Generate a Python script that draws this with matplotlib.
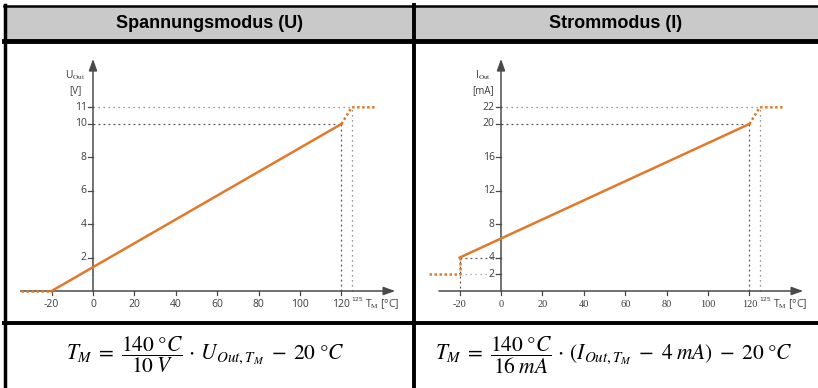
import matplotlib
matplotlib.use("Agg")
import matplotlib.pyplot as plt
from matplotlib.patches import Rectangle
from matplotlib.lines import Line2D

W, H = 818, 388

# column headers and formulas
headers = ["Spannungsmodus (U)", "Strommodus (I)"]
formulas = [
    r"$T_M \;=\; \dfrac{140\;°C}{10\;V} \,\cdot\, U_{Out,T_M} \;-\; 20\;°C$",
    r"$T_M \;=\; \dfrac{140\;°C}{16\;mA} \,\cdot\, \left(I_{Out,T_M} \;-\; 4\;mA\right) \;-\; 20\;°C$",
]

# voltage mode characteristic
u_temp = [-35, -20, 120, 125, 136]
u_out = [0, 0, 10, 11, 11]
u_yticks = [2, 4, 6, 8, 10, 11]

# current mode characteristic
i_temp = [-35, -20, -20, 120, 125, 136]
i_out = [2, 2, 4, 20, 22, 22]
i_yticks = [2, 4, 8, 12, 16, 20, 22]

t_ticks = [-20, 0, 20, 40, 60, 80, 100, 120]
t_max = 125

ORANGE = "#e2782a"
AXC = "#4a4a4a"
TXT = "#3c3c3c"


def fx(px):
    return px / W


def fy(py):
    return 1 - py / H


fig = plt.figure(figsize=(W / 100, H / 100), dpi=100)

# table frame
fig.add_artist(Rectangle((fx(5), fy(40)), fx(818) - fx(5), fy(6) - fy(40),
                         facecolor="#c9c9c9", edgecolor="none"))
for (x0, y0, x1, y1, lw) in [(4.5, 5, 4.5, 388, 2.5), (4, 5.5, 818, 5.5, 1.8),
                             (4, 41, 818, 41, 3.5), (4, 323, 818, 323, 2.8),
                             (414, 5, 414, 388, 2.8)]:
    fig.add_artist(Line2D([fx(x0), fx(x1)], [fy(y0), fy(y1)], color="black", lw=lw))

for cx, h in zip([209, 616], headers):
    fig.text(fx(cx), fy(23), h, ha="center", va="center", fontsize=13,
             fontweight="bold", family="Liberation Sans")

plt.rcParams["mathtext.fontset"] = "stix"
for cx, f in zip([205, 614], formulas):
    fig.text(fx(cx), fy(355), f, ha="center", va="center", fontsize=15.5)


def make_axes(x_origin, yscale):
    # pixels per unit: x 2.07, y 16.7 / yscale ; origin pixel at (x_origin, 291)
    left, right, top, bottom = x_origin - 83, x_origin + 312, 45, 318
    ax = fig.add_axes([fx(left), fy(bottom), (right - left) / W, (bottom - top) / H])
    ax.set_xlim((left - x_origin) / 2.07, (right - x_origin) / 2.07)
    ax.set_ylim((291 - bottom) / 16.7 * yscale, (291 - top) / 16.7 * yscale)
    ax.axis("off")
    return ax


def draw_frame(ax, yscale, x_start, yticks, ylab, yunit, yfont, xfont):
    # axes with arrows
    ax.annotate("", xy=(146, 0), xytext=(x_start, 0),
                arrowprops=dict(arrowstyle="-|>,head_length=0.7,head_width=0.25",
                                color=AXC, lw=1.1, shrinkA=0, shrinkB=0))
    ax.annotate("", xy=(0, 13.9 * yscale), xytext=(0, 0),
                arrowprops=dict(arrowstyle="-|>,head_length=0.7,head_width=0.25",
                                color=AXC, lw=1.1, shrinkA=0, shrinkB=0))
    for t in t_ticks:
        ax.plot([t, t], [0, -0.22 * yscale], color=AXC, lw=0.9)
        ax.text(t, -0.8 * yscale, str(t), ha="center", va="center", fontsize=7.5,
                color=TXT, family=xfont)
    for v in yticks:
        ax.plot([-2.2, 0], [v, v], color=AXC, lw=0.9)
        ax.text(-3, v, str(v), ha="right", va="center", fontsize=7.5, color=TXT,
                family=yfont)
    ax.text(127.5, -0.5 * yscale, str(t_max), ha="center", va="center",
            fontsize=4.5, color=TXT)
    ax.text(131.5, -0.8 * yscale, r"T$_{\rm M}$ [°C]", ha="left", va="center",
            fontsize=7.5, color=TXT, family="Open Sans")
    ax.text(-8.5, 12.9 * yscale, ylab, ha="center", va="center", fontsize=7.5,
            color=TXT, family="Open Sans")
    ax.text(-8.5, 12.0 * yscale, yunit, ha="center", va="center", fontsize=7,
            color=TXT, family="Open Sans")


def draw_limits(ax, v_lo, v_hi):
    # dotted guide lines to 120 / 125
    ax.plot([0, 120], [v_lo, v_lo], ls=(0, (1.5, 2.5)), color="#555555", lw=0.9)
    ax.plot([0, t_max], [v_hi, v_hi], ls=(0, (1, 3)), color="#777777", lw=0.9)
    ax.plot([120, 120], [0, v_lo], ls=(0, (1.5, 2.5)), color="#555555", lw=0.9)
    ax.plot([t_max, t_max], [0, v_hi], ls=(0, (1, 3)), color="#777777", lw=0.9)


# left chart: voltage
axl = make_axes(93, 1)
draw_limits(axl, u_out[2], u_out[3])
draw_frame(axl, 1, -35, u_yticks, r"U$_{\rm Out}$", "[V]", "Open Sans", "Open Sans")
axl.plot(u_temp[:2], u_out[:2], color=ORANGE, lw=1.8, ls=(0, (1, 1)), zorder=5)
axl.plot(u_temp[1:3], u_out[1:3], color=ORANGE, lw=1.8, zorder=5)
axl.plot(u_temp[2:], u_out[2:], color=ORANGE, lw=1.8, ls=(0, (1, 1)), zorder=5)

# right chart: current
axr = make_axes(501, 2)
draw_limits(axr, i_out[3], i_out[4])
axr.plot([-20, -20], [0.4, i_out[2]], ls=(0, (1.5, 2.5)), color="#555555", lw=0.9)
axr.plot([-20, 0], [i_out[2], i_out[2]], ls=(0, (1.5, 2.5)), color="#555555", lw=0.9)
axr.plot([-20, 0], [i_out[1], i_out[1]], ls=(0, (1, 3)), color="#999999", lw=0.9)
draw_frame(axr, 2, -30, i_yticks, r"I$_{\rm Out}$", "[mA]", "Open Sans", "Liberation Serif")
axr.plot(i_temp[:3], i_out[:3], color=ORANGE, lw=1.8, ls=(0, (1, 1)), zorder=5)
axr.plot(i_temp[2:4], i_out[2:4], color=ORANGE, lw=1.8, zorder=5)
axr.plot(i_temp[3:], i_out[3:], color=ORANGE, lw=1.8, ls=(0, (1, 1)), zorder=5)

fig.savefig("out.png", dpi=100)
